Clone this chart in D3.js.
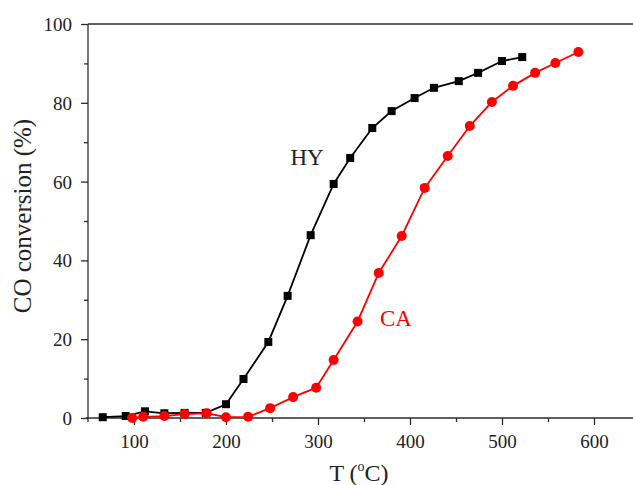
<!DOCTYPE html>
<html>
<head>
<meta charset="utf-8">
<script src="https://cdn.jsdelivr.net/npm/d3@7"></script>
<style>
  html, body { margin: 0; padding: 0; background: #fff; }
  svg { display: block; }
  text { font-family: "Liberation Serif", "Times New Roman", serif; }
</style>
</head>
<body>
<svg id="chart" width="633" height="485"></svg>
<script>
// CO conversion vs. temperature for two catalysts
const hyTemp = [66, 91, 112, 133, 155, 178, 200, 219, 246, 267, 292, 317, 335, 359, 380, 405, 426, 453, 474, 500, 522];
const hyConv = [0.2, 0.5, 1.7, 1.2, 1.3, 1.3, 3.5, 9.9, 19.3, 31.0, 46.4, 59.4, 66.0, 73.6, 77.9, 81.2, 83.8, 85.5, 87.6, 90.6, 91.6];

const caTemp = [98, 110, 133, 155, 179, 200, 224, 248, 273, 298, 317, 343, 366, 391, 416, 441, 465, 489, 512, 536, 558, 583];
const caConv = [0.0, 0.3, 0.5, 1.0, 1.2, 0.2, 0.3, 2.5, 5.3, 7.7, 14.7, 24.5, 36.8, 46.2, 58.4, 66.5, 74.1, 80.2, 84.3, 87.6, 90.1, 92.9];

const xMajor = [100, 200, 300, 400, 500, 600];
const xMinor = [150, 250, 350, 450, 550];
const yMajor = [0, 20, 40, 60, 80, 100];
const yMinor = [10, 30, 50, 70, 90];

const W = 633, H = 485;
const plotLeft = 88, plotTop = 24, plotBottom = 418;
const axisColor = "#2b2b2b";

const svg = d3.select("#chart");

const x = d3.scaleLinear().domain([50, 650]).range([plotLeft, 640]);
const y = d3.scaleLinear().domain([0, 100]).range([plotBottom, plotTop]);

// frame: top border line
svg.append("line")
  .attr("x1", plotLeft).attr("x2", W).attr("y1", plotTop).attr("y2", plotTop)
  .attr("stroke", axisColor).attr("stroke-width", 1.3);

// x axis
const gx = svg.append("g").attr("transform", `translate(0,${plotBottom})`);
gx.call(d3.axisBottom(x).tickValues(xMajor).tickSize(7).tickSizeOuter(0).tickFormat(d3.format("d")));
gx.append("g").call(d3.axisBottom(x).tickValues(xMinor).tickSize(4).tickSizeOuter(0).tickFormat(""))
  .select(".domain").remove();
gx.select(".domain").attr("d", `M${plotLeft - 2},0H${W}`);

// y axis
const gy = svg.append("g").attr("transform", `translate(${plotLeft},0)`);
gy.call(d3.axisLeft(y).tickValues(yMajor).tickSize(7).tickSizeOuter(0).tickFormat(d3.format("d")));
gy.append("g").call(d3.axisLeft(y).tickValues(yMinor).tickSize(4).tickSizeOuter(0).tickFormat(""))
  .select(".domain").remove();
gy.select(".domain").attr("d", `M0,${plotTop}V${plotBottom + 4}`);

svg.selectAll(".domain, .tick line").attr("stroke", axisColor).attr("stroke-width", 1.3);
gx.selectAll(".tick text").attr("font-size", 19).attr("fill", "#222")
  .attr("font-family", "Liberation Serif").attr("dy", null).attr("y", 30);
gy.selectAll(".tick text").attr("font-size", 19).attr("fill", "#222")
  .attr("font-family", "Liberation Serif").attr("x", -16).attr("dy", "0.34em");

// axis titles
const xt = svg.append("text")
  .attr("x", 359).attr("y", 481)
  .attr("text-anchor", "middle").attr("font-size", 24).attr("fill", "#222");
xt.append("tspan").text("T (");
xt.append("tspan").text("o").attr("font-size", 14).attr("dy", -10);
xt.append("tspan").text("C)").attr("dy", 10);

svg.append("text")
  .attr("transform", "translate(31,216) rotate(-90)")
  .attr("text-anchor", "middle").attr("font-size", 25).attr("fill", "#222")
  .text("CO conversion (%)");

const line = d3.line().x(d => x(d[0])).y(d => y(d[1]));

// HY series: black squares
const hy = hyTemp.map((t, i) => [t, hyConv[i]]);
svg.append("path").datum(hy).attr("d", line)
  .attr("fill", "none").attr("stroke", "#000").attr("stroke-width", 1.8);
svg.append("g").selectAll("rect").data(hy).join("rect")
  .attr("x", d => x(d[0]) - 4).attr("y", d => y(d[1]) - 4)
  .attr("width", 8).attr("height", 8).attr("fill", "#000");

// CA series: red circles
const ca = caTemp.map((t, i) => [t, caConv[i]]);
svg.append("path").datum(ca).attr("d", line)
  .attr("fill", "none").attr("stroke", "#ff0000").attr("stroke-width", 1.8);
svg.append("g").selectAll("circle").data(ca).join("circle")
  .attr("cx", d => x(d[0])).attr("cy", d => y(d[1])).attr("r", 5)
  .attr("fill", "#ff0000");

// series labels
svg.append("text").attr("x", 307).attr("y", 165).attr("text-anchor", "middle")
  .attr("font-size", 23).attr("fill", "#222").text("HY");
svg.append("text").attr("x", 396).attr("y", 326).attr("text-anchor", "middle")
  .attr("font-size", 23).attr("fill", "#ff0000").text("CA");
</script>
</body>
</html>
